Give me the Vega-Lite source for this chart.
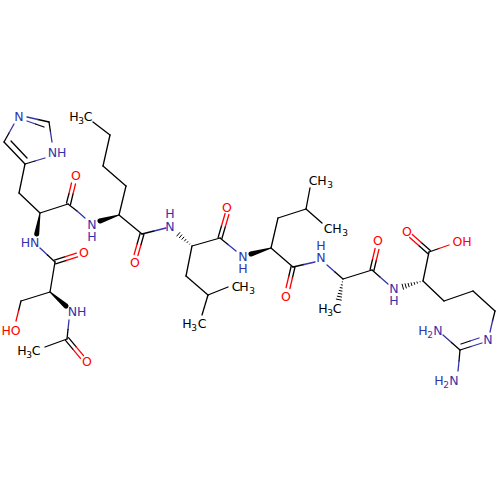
{
  "$schema": "https://vega.github.io/schema/vega-lite/v6.json",
  "description": "Skeletal structure of an acetylated peptide: Ser, His, Nle, Leu, Leu, Ala, Arg.",
  "autosize": {"type": "fit", "contains": "padding"},
  "width": 500,
  "height": 500,
  "padding": 0,
  "background": "white",
  "view": {"stroke": null},
  "datasets": {
    "bonds": [
      {"x": 19, "y": 193, "x2": 40, "y2": 213, "el": "C"},
      {"x": 19, "y": 193, "x2": 25, "y2": 164, "el": "C"},
      {"x": 4, "y": 142, "x2": 25, "y2": 164, "el": "C"},
      {"x": 11, "y": 141, "x2": 27, "y2": 158, "el": "C"},
      {"x": 4, "y": 142, "x2": 9, "y2": 133, "el": "C"},
      {"x": 9, "y": 133, "x2": 14, "y2": 124, "el": "N"},
      {"x": 25, "y": 164, "x2": 35, "y2": 161, "el": "C"},
      {"x": 35, "y": 161, "x2": 45, "y2": 158, "el": "N"},
      {"x": 49, "y": 122, "x2": 50.5, "y2": 132, "el": "C"},
      {"x": 50.5, "y": 132, "x2": 52, "y2": 142, "el": "N"},
      {"x": 49, "y": 122, "x2": 38, "y2": 119.5, "el": "C"},
      {"x": 38, "y": 119.5, "x2": 27, "y2": 117, "el": "N"},
      {"x": 44, "y": 127, "x2": 35.5, "y2": 124, "el": "C"},
      {"x": 35.5, "y": 124, "x2": 27, "y2": 121, "el": "N"},
      {"x": 40, "y": 213, "x2": 68, "y2": 204, "el": "C"},
      {"x": 66.5, "y": 203, "x2": 69, "y2": 193.5, "el": "C"},
      {"x": 69, "y": 193.5, "x2": 71.5, "y2": 183, "el": "O"},
      {"x": 70.5, "y": 204.5, "x2": 73, "y2": 194, "el": "C"},
      {"x": 73, "y": 194, "x2": 75.5, "y2": 184, "el": "O"},
      {"x": 68, "y": 204, "x2": 77, "y2": 211, "el": "C"},
      {"x": 77, "y": 211, "x2": 85, "y2": 218, "el": "N"},
      {"x": 40, "y": 248, "x2": 47.5, "y2": 255, "el": "N"},
      {"x": 47.5, "y": 255, "x2": 55, "y2": 262, "el": "C"},
      {"x": 54.4, "y": 260.1, "x2": 65.4, "y2": 256.6, "el": "C"},
      {"x": 65.4, "y": 256.6, "x2": 76.4, "y2": 253.1, "el": "O"},
      {"x": 55.6, "y": 263.9, "x2": 66.6, "y2": 260.4, "el": "C"},
      {"x": 66.6, "y": 260.4, "x2": 77.6, "y2": 256.9, "el": "O"},
      {"x": 55, "y": 262, "x2": 50, "y2": 292, "el": "C"},
      {"x": 50, "y": 292, "x2": 21, "y2": 301, "el": "C"},
      {"x": 21, "y": 301, "x2": 18.5, "y2": 311, "el": "C"},
      {"x": 18.5, "y": 311, "x2": 16, "y2": 321, "el": "O"},
      {"x": 69, "y": 320, "x2": 68, "y2": 329.5, "el": "N"},
      {"x": 68, "y": 329.5, "x2": 67, "y2": 339, "el": "C"},
      {"x": 67, "y": 339, "x2": 45, "y2": 347, "el": "C"},
      {"x": 68.5, "y": 337.7, "x2": 76, "y2": 346.7, "el": "C"},
      {"x": 76, "y": 346.7, "x2": 83.5, "y2": 355.7, "el": "O"},
      {"x": 65.5, "y": 340.3, "x2": 73, "y2": 349.3, "el": "C"},
      {"x": 73, "y": 349.3, "x2": 80.5, "y2": 358.3, "el": "O"},
      {"x": 119, "y": 215, "x2": 126, "y2": 186, "el": "C"},
      {"x": 126, "y": 186, "x2": 103, "y2": 166, "el": "C"},
      {"x": 103, "y": 166, "x2": 110, "y2": 135, "el": "C"},
      {"x": 110, "y": 135, "x2": 93, "y2": 122, "el": "C"},
      {"x": 119, "y": 215, "x2": 142, "y2": 234, "el": "C"},
      {"x": 143.9, "y": 234.5, "x2": 140.9, "y2": 245, "el": "C"},
      {"x": 140.9, "y": 245, "x2": 137.9, "y2": 255.5, "el": "O"},
      {"x": 140.1, "y": 233.5, "x2": 137.1, "y2": 244, "el": "C"},
      {"x": 137.1, "y": 244, "x2": 134.1, "y2": 254.5, "el": "O"},
      {"x": 142, "y": 234, "x2": 154, "y2": 231, "el": "C"},
      {"x": 154, "y": 231, "x2": 166, "y2": 228, "el": "N"},
      {"x": 192, "y": 246, "x2": 220, "y2": 238, "el": "C"},
      {"x": 192, "y": 246, "x2": 186, "y2": 276, "el": "C"},
      {"x": 186, "y": 276, "x2": 208, "y2": 295, "el": "C"},
      {"x": 208, "y": 295, "x2": 228, "y2": 287, "el": "C"},
      {"x": 208, "y": 295, "x2": 202, "y2": 315, "el": "C"},
      {"x": 218.1, "y": 237.5, "x2": 221.6, "y2": 225.5, "el": "C"},
      {"x": 221.6, "y": 225.5, "x2": 225.1, "y2": 213.5, "el": "O"},
      {"x": 221.9, "y": 238.5, "x2": 225.4, "y2": 226.5, "el": "C"},
      {"x": 225.4, "y": 226.5, "x2": 228.9, "y2": 214.5, "el": "O"},
      {"x": 220, "y": 238, "x2": 228, "y2": 244.5, "el": "C"},
      {"x": 228, "y": 244.5, "x2": 236, "y2": 251, "el": "N"},
      {"x": 271, "y": 248, "x2": 293, "y2": 267, "el": "C"},
      {"x": 271, "y": 248, "x2": 278, "y2": 218, "el": "C"},
      {"x": 278, "y": 218, "x2": 306, "y2": 209, "el": "C"},
      {"x": 306, "y": 209, "x2": 310, "y2": 188, "el": "C"},
      {"x": 306, "y": 209, "x2": 322, "y2": 223, "el": "C"},
      {"x": 294.9, "y": 267.5, "x2": 292.4, "y2": 278, "el": "C"},
      {"x": 292.4, "y": 278, "x2": 289.9, "y2": 288.5, "el": "O"},
      {"x": 291.1, "y": 266.5, "x2": 288.6, "y2": 277, "el": "C"},
      {"x": 288.6, "y": 277, "x2": 286.1, "y2": 287.5, "el": "O"},
      {"x": 293, "y": 267, "x2": 304, "y2": 264.5, "el": "C"},
      {"x": 304, "y": 264.5, "x2": 315, "y2": 262, "el": "N"},
      {"x": 327, "y": 265, "x2": 335, "y2": 272, "el": "N"},
      {"x": 335, "y": 272, "x2": 343, "y2": 279, "el": "C"},
      {"x": 343, "y": 279, "x2": 372, "y2": 270, "el": "C"},
      {"x": 370.1, "y": 269.5, "x2": 372.6, "y2": 259, "el": "C"},
      {"x": 372.6, "y": 259, "x2": 375.1, "y2": 248.5, "el": "O"},
      {"x": 373.9, "y": 270.5, "x2": 376.4, "y2": 260, "el": "C"},
      {"x": 376.4, "y": 260, "x2": 378.9, "y2": 249.5, "el": "O"},
      {"x": 372, "y": 270, "x2": 380, "y2": 277, "el": "C"},
      {"x": 380, "y": 277, "x2": 388, "y2": 284, "el": "N"},
      {"x": 423, "y": 281, "x2": 429, "y2": 252, "el": "C"},
      {"x": 430.3, "y": 250.5, "x2": 421.3, "y2": 242.5, "el": "C"},
      {"x": 421.3, "y": 242.5, "x2": 412.3, "y2": 234.5, "el": "O"},
      {"x": 427.7, "y": 253.5, "x2": 418.7, "y2": 245.5, "el": "C"},
      {"x": 418.7, "y": 245.5, "x2": 409.7, "y2": 237.5, "el": "O"},
      {"x": 429, "y": 252, "x2": 439, "y2": 248.5, "el": "C"},
      {"x": 439, "y": 248.5, "x2": 449, "y2": 245, "el": "O"},
      {"x": 423, "y": 281, "x2": 444, "y2": 301, "el": "C"},
      {"x": 444, "y": 301, "x2": 473, "y2": 291, "el": "C"},
      {"x": 473, "y": 291, "x2": 495, "y2": 311, "el": "C"},
      {"x": 495, "y": 311, "x2": 492.5, "y2": 321, "el": "C"},
      {"x": 492.5, "y": 321, "x2": 490, "y2": 332, "el": "N"},
      {"x": 460, "y": 350, "x2": 471, "y2": 346.5, "el": "C"},
      {"x": 471, "y": 346.5, "x2": 482, "y2": 343, "el": "N"},
      {"x": 461, "y": 344, "x2": 470, "y2": 341, "el": "C"},
      {"x": 470, "y": 341, "x2": 479, "y2": 338, "el": "N"},
      {"x": 443, "y": 335, "x2": 451.5, "y2": 342.5, "el": "N"},
      {"x": 451.5, "y": 342.5, "x2": 460, "y2": 350, "el": "C"},
      {"x": 460, "y": 350, "x2": 459, "y2": 361, "el": "C"},
      {"x": 459, "y": 361, "x2": 458, "y2": 371, "el": "N"}
    ],
    "wedges": [
      {"bond": "his", "x": 40, "y": 213, "w": 0},
      {"bond": "his", "x": 36.7, "y": 234, "w": 5},
      {"bond": "nle", "x": 119, "y": 215, "w": 0},
      {"bond": "nle", "x": 100, "y": 221, "w": 5},
      {"bond": "leu", "x": 271, "y": 248, "w": 0},
      {"bond": "leu", "x": 251, "y": 254, "w": 5},
      {"bond": "ser", "x": 50, "y": 292, "w": 0},
      {"bond": "ser", "x": 66, "y": 306, "w": 5}
    ],
    "hashes": [
      {"x": 189.4, "y": 244.45, "x2": 190, "y2": 243.65},
      {"x": 186.75, "y": 242.86, "x2": 188.05, "y2": 241.34},
      {"x": 184.3, "y": 241.3, "x2": 186.1, "y2": 239.1},
      {"x": 181.7, "y": 239.6, "x2": 184.1, "y2": 236.8},
      {"x": 179.2, "y": 238, "x2": 182, "y2": 234.6},
      {"x": 176.6, "y": 236.3, "x2": 180, "y2": 232.3},
      {"x": 420, "y": 281.3, "x2": 420.2, "y2": 282.3},
      {"x": 416.9, "y": 281.6, "x2": 417.5, "y2": 283.6},
      {"x": 414, "y": 282.1, "x2": 414.8, "y2": 284.7},
      {"x": 411, "y": 282.5, "x2": 412, "y2": 285.9},
      {"x": 408, "y": 283, "x2": 409.2, "y2": 287.2},
      {"x": 405, "y": 283.4, "x2": 406.4, "y2": 288.4},
      {"x": 402, "y": 283.8, "x2": 403.6, "y2": 289.6},
      {"x": 341.9, "y": 281.8, "x2": 342.9, "y2": 282},
      {"x": 340.8, "y": 284.7, "x2": 342.8, "y2": 285.1},
      {"x": 339.8, "y": 287.5, "x2": 342.6, "y2": 288.1},
      {"x": 338.8, "y": 290.4, "x2": 342.4, "y2": 291.2},
      {"x": 337.8, "y": 293.3, "x2": 342.2, "y2": 294.1},
      {"x": 336.9, "y": 296.1, "x2": 341.9, "y2": 297.1},
      {"x": 335.9, "y": 299, "x2": 341.7, "y2": 300.2}
    ],
    "labels": [
      {"t": "N", "x": 19, "y": 117, "el": "N"},
      {"t": "NH", "x": 57, "y": 153, "el": "N"},
      {"t": "O", "x": 76, "y": 176, "el": "O"},
      {"t": "HN", "x": 30, "y": 243, "el": "N"},
      {"t": "N", "x": 92, "y": 225, "el": "N"},
      {"t": "H", "x": 92, "y": 237, "el": "N"},
      {"t": "H", "x": 74, "y": 117, "el": "C"},
      {"t": "C", "x": 88, "y": 117, "el": "C"},
      {"t": "O", "x": 135, "y": 263, "el": "O"},
      {"t": "O", "x": 84, "y": 253, "el": "O"},
      {"t": "N", "x": 170, "y": 227, "el": "N"},
      {"t": "H", "x": 170, "y": 214, "el": "N"},
      {"t": "HO", "x": 11, "y": 331, "el": "O"},
      {"t": "NH", "x": 77, "y": 312, "el": "N"},
      {"t": "H", "x": 22, "y": 351, "el": "C"},
      {"t": "C", "x": 36, "y": 351, "el": "C"},
      {"t": "O", "x": 87, "y": 362, "el": "O"},
      {"t": "O", "x": 227, "y": 208, "el": "O"},
      {"t": "N", "x": 243, "y": 257, "el": "N"},
      {"t": "H", "x": 243, "y": 269, "el": "N"},
      {"t": "C", "x": 236, "y": 287, "el": "C"},
      {"t": "H", "x": 244, "y": 287, "el": "C"},
      {"t": "H", "x": 187, "y": 324, "el": "C"},
      {"t": "C", "x": 202, "y": 324, "el": "C"},
      {"t": "O", "x": 286, "y": 297, "el": "O"},
      {"t": "C", "x": 313, "y": 181, "el": "C"},
      {"t": "H", "x": 322, "y": 181, "el": "C"},
      {"t": "C", "x": 328, "y": 229, "el": "C"},
      {"t": "H", "x": 337, "y": 229, "el": "C"},
      {"t": "N", "x": 321, "y": 258, "el": "N"},
      {"t": "H", "x": 321, "y": 246, "el": "N"},
      {"t": "H", "x": 323, "y": 309, "el": "C"},
      {"t": "C", "x": 337, "y": 309, "el": "C"},
      {"t": "O", "x": 378, "y": 241, "el": "O"},
      {"t": "N", "x": 394, "y": 289, "el": "N"},
      {"t": "H", "x": 394, "y": 301, "el": "N"},
      {"t": "O", "x": 407, "y": 232, "el": "O"},
      {"t": "OH", "x": 462, "y": 242, "el": "O"},
      {"t": "H", "x": 423, "y": 331, "el": "N"},
      {"t": "N", "x": 438, "y": 331, "el": "N"},
      {"t": "N", "x": 488, "y": 340, "el": "N"},
      {"t": "H", "x": 439, "y": 381, "el": "N"},
      {"t": "N", "x": 454, "y": 381, "el": "N"}
    ],
    "subs": [
      {"t": "3", "x": 81, "y": 121, "el": "C"},
      {"t": "3", "x": 29, "y": 355, "el": "C"},
      {"t": "3", "x": 252, "y": 291, "el": "C"},
      {"t": "3", "x": 194, "y": 328, "el": "C"},
      {"t": "3", "x": 330, "y": 185, "el": "C"},
      {"t": "3", "x": 345, "y": 233, "el": "C"},
      {"t": "3", "x": 330, "y": 313, "el": "C"},
      {"t": "2", "x": 430, "y": 335, "el": "N"},
      {"t": "2", "x": 446, "y": 385, "el": "N"}
    ]
  },
  "encoding": {
    "x": {"field": "x", "type": "quantitative", "scale": {"domain": [0, 500]}, "axis": null},
    "y": {"field": "y", "type": "quantitative", "scale": {"domain": [500, 0]}, "axis": null}
  },
  "layer": [
    {
      "data": {"name": "bonds"},
      "mark": {"type": "rule", "strokeWidth": 1.3, "strokeCap": "round"},
      "encoding": {
        "x2": {"field": "x2"},
        "y2": {"field": "y2"},
        "color": {
          "field": "el",
          "type": "nominal",
          "scale": {"domain": ["C", "N", "O"], "range": ["#000000", "#3333aa", "#ff0000"]},
          "legend": null
        }
      }
    },
    {
      "data": {"name": "hashes"},
      "mark": {"type": "rule", "strokeWidth": 1, "color": "#000000"},
      "encoding": {"x2": {"field": "x2"}, "y2": {"field": "y2"}}
    },
    {
      "data": {"name": "wedges"},
      "mark": {"type": "trail", "color": "#000000"},
      "encoding": {
        "detail": {"field": "bond"},
        "size": {
          "field": "w",
          "type": "quantitative",
          "scale": {"domain": [0, 5], "range": [0, 5]},
          "legend": null
        }
      }
    },
    {
      "data": {"name": "labels"},
      "mark": {"type": "text", "font": "DejaVu Sans", "fontSize": 12.5, "baseline": "middle", "align": "center"},
      "encoding": {
        "text": {"field": "t"},
        "color": {"field": "el", "type": "nominal", "legend": null}
      }
    },
    {
      "data": {"name": "subs"},
      "mark": {"type": "text", "font": "DejaVu Sans", "fontSize": 9, "baseline": "middle", "align": "center"},
      "encoding": {
        "text": {"field": "t"},
        "color": {"field": "el", "type": "nominal", "legend": null}
      }
    }
  ]
}
